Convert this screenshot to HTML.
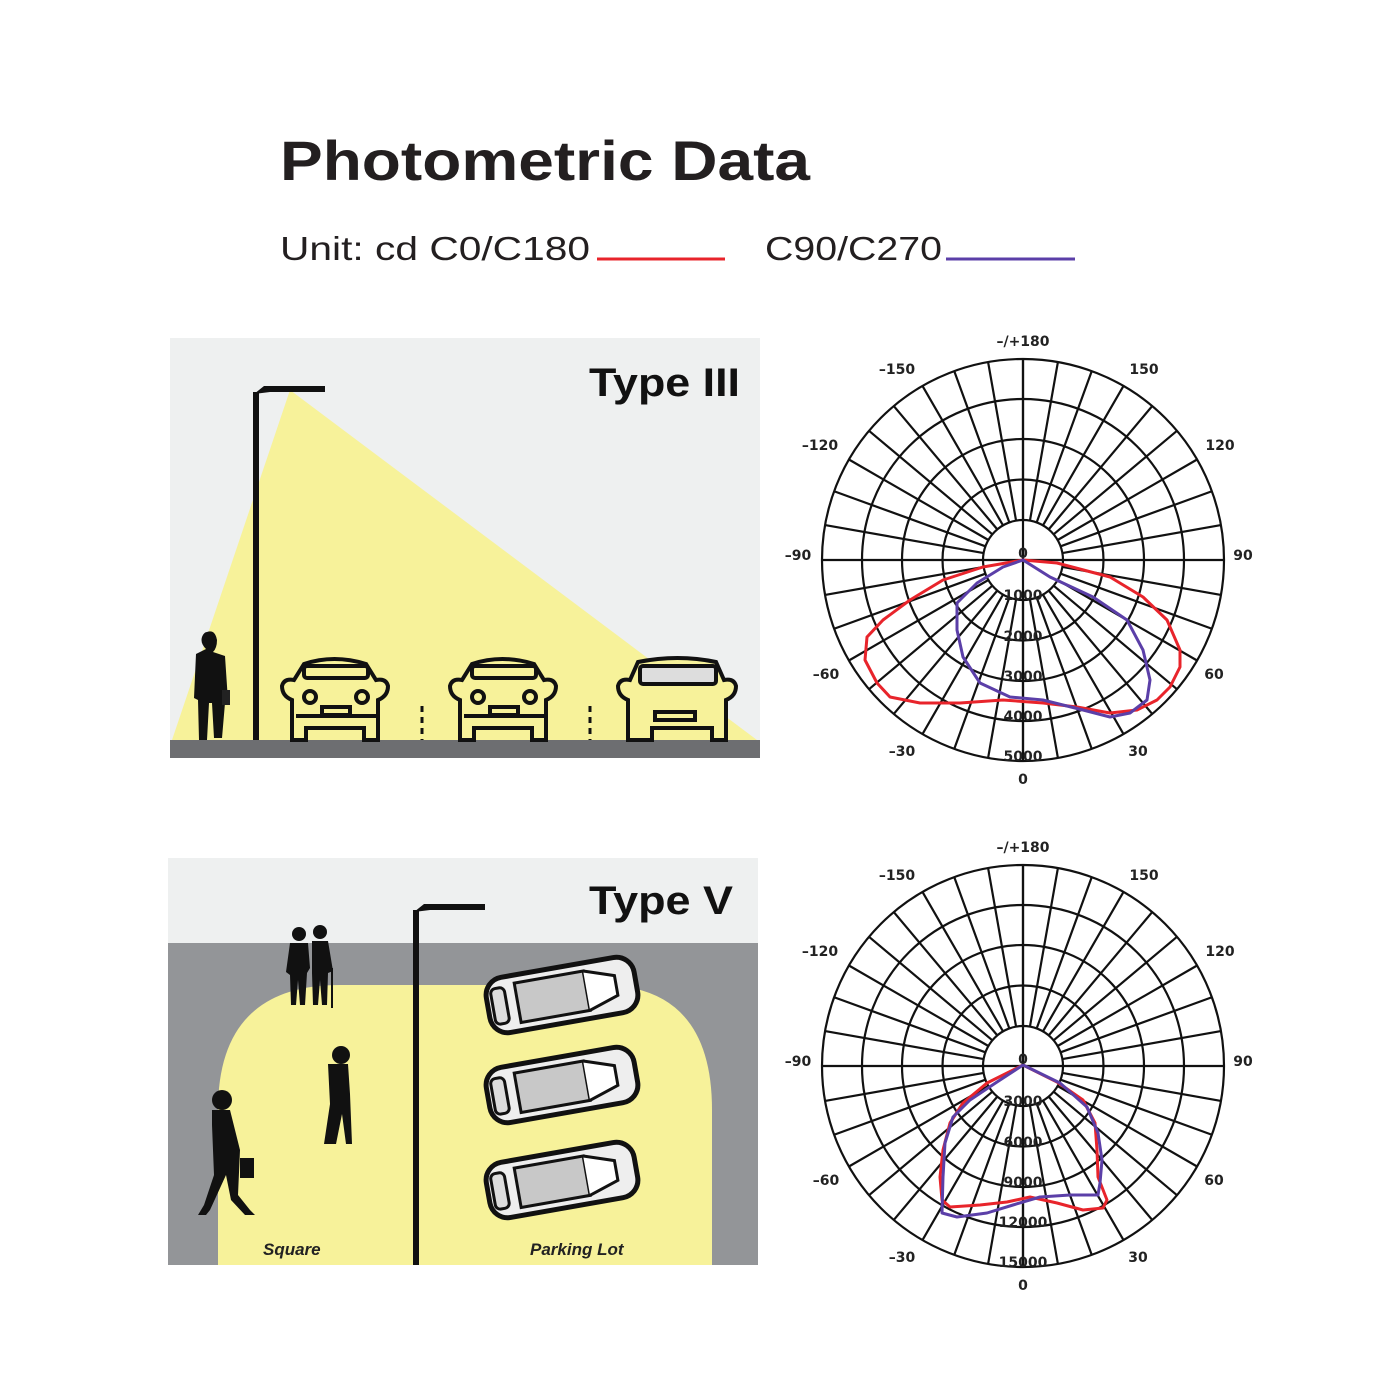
<!DOCTYPE html>
<html><head><meta charset="utf-8"><style>html,body{margin:0;padding:0;background:#fff}svg{display:block}</style></head>
<body>
<svg width="1400" height="1400" viewBox="0 0 1400 1400" xmlns="http://www.w3.org/2000/svg" font-family="Liberation Sans, DejaVu Sans, sans-serif">
<defs>
<g id="grid" fill="none" stroke="#111" stroke-width="2.2">
<circle r="40"/><circle r="80.5"/><circle r="121"/><circle r="161"/><circle r="201"/>
<path d="M-201,0H201M0,-201V201"/>
<g id="rp"><path d="M0,40V201M0,-40V-201"/></g>
<use href="#rp" transform="rotate(10)"/><use href="#rp" transform="rotate(20)"/><use href="#rp" transform="rotate(30)"/><use href="#rp" transform="rotate(40)"/><use href="#rp" transform="rotate(50)"/><use href="#rp" transform="rotate(60)"/><use href="#rp" transform="rotate(70)"/><use href="#rp" transform="rotate(80)"/><use href="#rp" transform="rotate(100)"/><use href="#rp" transform="rotate(110)"/><use href="#rp" transform="rotate(120)"/><use href="#rp" transform="rotate(130)"/><use href="#rp" transform="rotate(140)"/><use href="#rp" transform="rotate(150)"/><use href="#rp" transform="rotate(160)"/><use href="#rp" transform="rotate(170)"/>
</g>
</defs>

<text x="280" y="180" font-size="56" font-weight="bold" fill="#231f20" textLength="530" lengthAdjust="spacingAndGlyphs">Photometric Data</text>
<text x="280" y="260" font-size="33" fill="#231f20" textLength="310" lengthAdjust="spacingAndGlyphs">Unit: cd  C0/C180</text>
<line x1="597" y1="259" x2="725" y2="259" stroke="#e8242b" stroke-width="3"/>
<text x="765" y="260" font-size="33" fill="#231f20" textLength="177" lengthAdjust="spacingAndGlyphs">C90/C270</text>
<line x1="946" y1="259" x2="1075" y2="259" stroke="#5b3fa8" stroke-width="3"/>

<!-- Type III panel -->
<rect x="170" y="338" width="590" height="420" fill="#eef0f0"/>
<polygon points="290,390 172,740 757,740" fill="#f7f29a"/>
<rect x="170" y="740" width="590" height="18" fill="#6d6e71"/>
<rect x="253" y="392" width="6" height="348" fill="#111"/>
<path d="M254,394 L264,386 H325 V392 H270" fill="#111"/>
<text x="589" y="396" font-size="40" font-weight="bold" fill="#111" textLength="151" lengthAdjust="spacingAndGlyphs">Type III</text>
<path d="M207,632 q8,-3 10,8 q0,8 -4,12 l12,4 l3,45 l-3,2 l-3,35 h-8 l-2,-35 l-3,0 l-2,37 h-8 l-1,-40 l-4,-2 l2,-44 l10,-5 q-6,-6 -4,-12 q2,-5 5,-5z" fill="#111"/>
<rect x="222" y="690" width="8" height="15" fill="#222"/>
<g id="car" fill="#f7f29a" stroke="#111" stroke-width="4">
<path d="M292,740 V700 q-10,-4 -10,-14 q2,-8 12,-6 l10,-16 q30,-10 62,0 l10,16 q10,-2 12,6 q0,10 -10,14 V740 h-14 v-12 h-58 v12z"/>
<rect x="304" y="666" width="64" height="12" rx="3" fill="none"/>
<circle cx="310" cy="697" r="6"/><circle cx="362" cy="697" r="6"/>
<rect x="322" y="707" width="28" height="8" fill="none"/>
<path d="M296,716 h80" fill="none"/>
</g>
<use href="#car" transform="translate(168,0)"/>
<g fill="#f7f29a" stroke="#111" stroke-width="4">
<path d="M628,740 V700 q-10,-4 -10,-14 q2,-8 12,-6 l8,-18 q40,-8 78,0 l8,18 q10,-2 12,6 q0,10 -10,14 V740 h-14 v-12 h-60 v12z"/>
<rect x="640" y="666" width="76" height="18" rx="3" fill="#ddd"/>
<rect x="655" y="712" width="40" height="8" fill="none"/>
</g>
<path d="M422,706V740M590,706V740" stroke="#111" stroke-width="3" stroke-dasharray="6,5"/>

<!-- Type V panel -->
<rect x="168" y="858" width="590" height="407" fill="#eef0f0"/>
<rect x="168" y="943" width="590" height="322" fill="#939598"/>
<path d="M218,1265 V1110 Q218,985 340,985 H600 Q712,985 712,1110 V1265 Z" fill="#f7f29a"/>
<rect x="413" y="910" width="6" height="355" fill="#111"/>
<path d="M414,912 L424,904 H485 V910 H430" fill="#111"/>
<text x="589" y="914" font-size="40" font-weight="bold" fill="#111" textLength="144" lengthAdjust="spacingAndGlyphs">Type V</text>
<g fill="#111">
<circle cx="299" cy="934" r="7"/><path d="M290,943 h18 l2,25 l-3,5 l-2,32 h-5 l-2,-25 l-2,25 h-5 l-1,-30 l-4,-3z"/>
<circle cx="320" cy="932" r="7"/><path d="M312,941 h16 l5,30 l-5,2 l-1,32 h-5 l-2,-25 l-2,25 h-5 l-1,-32 z"/>
<rect x="331" y="968" width="2" height="40"/>
<circle cx="341" cy="1055" r="9"/><path d="M334,1064 h14 l2,30 l2,50 h-6 l-4,-30 l-6,30 h-12 l6,-40 l-2,-40z"/>
<circle cx="222" cy="1100" r="10"/><path d="M212,1110 h18 l10,40 l-2,45 l12,15 l5,5 h-10 l-14,-15 l-5,-25 l-16,35 l-4,5 h-8 l6,-10 l10,-30 l-2,-50z"/>
<rect x="240" y="1158" width="14" height="20"/>
</g>
<g id="topcar" transform="translate(562,995) rotate(-10)">
<rect x="-75" y="-28" width="150" height="56" rx="18" fill="#eee" stroke="#111" stroke-width="5"/>
<rect x="-45" y="-20" width="70" height="40" fill="#c8c8c8" stroke="#111" stroke-width="3"/>
<path d="M25,-20 L55,-10 V10 L25,20" fill="#fff" stroke="#111" stroke-width="3"/>
<rect x="-70" y="-18" width="14" height="36" rx="5" fill="#ddd" stroke="#111" stroke-width="3"/>
</g>
<use href="#topcar" transform="translate(0,90)"/>
<use href="#topcar" transform="translate(0,185)"/>
<text x="263" y="1255" font-size="17" font-weight="bold" font-style="italic" fill="#222">Square</text>
<text x="530" y="1255" font-size="17" font-weight="bold" font-style="italic" fill="#222">Parking Lot</text>

<!-- Polar 1 -->
<use href="#grid" transform="translate(1023,560)"/>
<path d="M1023,560 L1057,563 L1110,577 L1143,597 L1167,620 L1180,650 L1180,667 L1170,687 L1157,700 L1137,710 L1110,713 L1077,707 L1043,703 L1003,700 L960,703 L920,703 L890,697 L877,683 L865,660 L867,637 L883,620 L910,600 L943,580 L983,567 Z" fill="none" stroke="#e8242b" stroke-width="3" stroke-linejoin="round"/>
<path d="M1023,560 L1050,577 L1093,597 L1127,620 L1143,650 L1150,680 L1147,700 L1130,713 L1110,717 L1083,710 L1043,700 L1010,697 L980,683 L963,657 L957,630 L957,603 L977,583 L1003,567 Z" fill="none" stroke="#5b3fa8" stroke-width="3" stroke-linejoin="round"/>
<g font-size="14" font-weight="bold" fill="#222" text-anchor="middle" font-family="DejaVu Sans, sans-serif">
<text x="1023" y="346">–/+180</text>
<text x="897" y="374">–150</text><text x="1144" y="374">150</text>
<text x="820" y="450">–120</text><text x="1220" y="450">120</text>
<text x="798" y="560">–90</text><text x="1243" y="560">90</text>
<text x="826" y="679">–60</text><text x="1214" y="679">60</text>
<text x="902" y="756">–30</text><text x="1138" y="756">30</text>
<text x="1023" y="784">0</text>
<text x="1023" y="558">0</text><text x="1023" y="600">1000</text><text x="1023" y="641">2000</text><text x="1023" y="681">3000</text><text x="1023" y="721">4000</text><text x="1023" y="761">5000</text>
</g>

<!-- Polar 2 -->
<use href="#grid" transform="translate(1023,1066)"/>
<path d="M1023,1065 L1057,1082 L1083,1100 L1095,1123 L1097,1150 L1098,1177 L1107,1200 L1103,1208 L1083,1210 L1057,1203 L1030,1197 L1007,1202 L980,1205 L950,1207 L942,1200 L940,1177 L943,1150 L950,1123 L963,1103 L987,1083 Z" fill="none" stroke="#e8242b" stroke-width="3" stroke-linejoin="round"/>
<path d="M1023,1065 L1060,1083 L1087,1107 L1098,1133 L1102,1160 L1100,1183 L1098,1195 L1070,1195 L1040,1197 L1013,1205 L987,1213 L957,1217 L942,1213 L943,1177 L945,1143 L953,1117 L970,1100 L997,1082 Z" fill="none" stroke="#5b3fa8" stroke-width="3" stroke-linejoin="round"/>
<g font-size="14" font-weight="bold" fill="#222" text-anchor="middle" font-family="DejaVu Sans, sans-serif">
<text x="1023" y="852">–/+180</text>
<text x="897" y="880">–150</text><text x="1144" y="880">150</text>
<text x="820" y="956">–120</text><text x="1220" y="956">120</text>
<text x="798" y="1066">–90</text><text x="1243" y="1066">90</text>
<text x="826" y="1185">–60</text><text x="1214" y="1185">60</text>
<text x="902" y="1262">–30</text><text x="1138" y="1262">30</text>
<text x="1023" y="1290">0</text>
<text x="1023" y="1064">0</text><text x="1023" y="1106">3000</text><text x="1023" y="1147">6000</text><text x="1023" y="1187">9000</text><text x="1023" y="1227">12000</text><text x="1023" y="1267">15000</text>
</g>
</svg>
</body></html>
